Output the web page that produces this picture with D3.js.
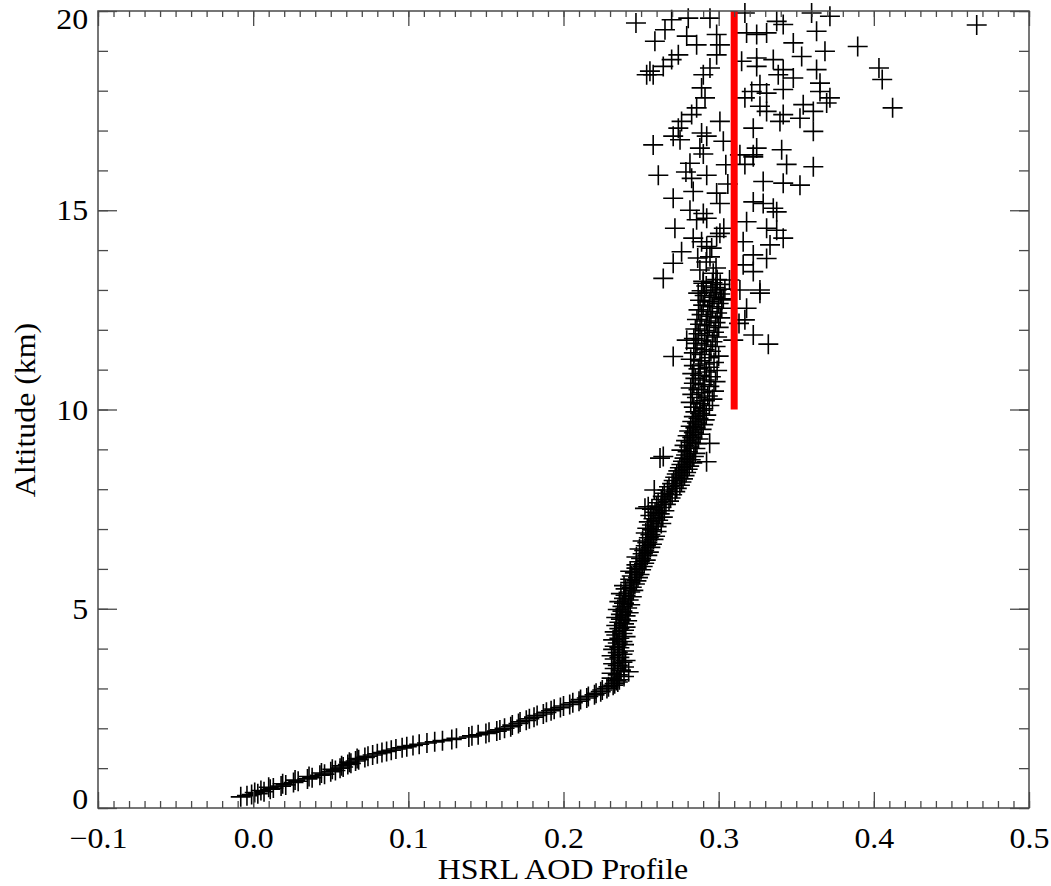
<!DOCTYPE html>
<html>
<head>
<meta charset="utf-8">
<script src="https://cdn.jsdelivr.net/npm/d3@7"></script>
<style>
  body { margin: 0; background: #fff; }
  svg text { font-family: "Liberation Serif", "Times New Roman", Times, "DejaVu Serif", serif !important; fill: #000; }
</style>
</head>
<body>
<svg id="chart"></svg>
<script>
// HSRL AOD profile points, [aod, altitude km]
// lower curve (boundary layer)
const lowerPoints = [
  [-0.008,0.28],[-0.004,0.31],[-0.001,0.34],[0.003,0.36],[0.001,0.39],[0.007,0.41],[0.005,0.44],
  [0.011,0.47],[0.013,0.50],[0.010,0.52],[0.018,0.55],[0.021,0.58],[0.019,0.61],[0.026,0.64],
  [0.029,0.67],[0.027,0.70],[0.035,0.73],[0.038,0.76],[0.036,0.79],[0.043,0.82],[0.046,0.85],
  [0.044,0.88],[0.050,0.91],[0.053,0.94],[0.051,0.97],[0.056,1.00],[0.058,1.03],[0.057,1.06],
  [0.061,1.09],[0.063,1.12],[0.062,1.15],[0.066,1.18],[0.068,1.21],[0.067,1.24],[0.072,1.27],
  [0.074,1.30],[0.077,1.33],[0.080,1.36],[0.083,1.39],[0.086,1.42],[0.089,1.45],[0.092,1.48],
  [0.096,1.51],[0.099,1.54],[0.103,1.57],[0.107,1.60],[0.112,1.63],[0.117,1.66],[0.122,1.69],
  [0.128,1.72],[0.131,1.75],[0.139,1.78],[0.141,1.81],[0.145,1.84],[0.150,1.87],[0.152,1.90],
  [0.157,1.93],[0.159,1.96],[0.162,2.00],[0.166,2.04],[0.167,2.08],[0.171,2.12],[0.172,2.16],
  [0.176,2.20],[0.178,2.24],[0.181,2.28],[0.183,2.32],[0.187,2.36],[0.189,2.40],[0.192,2.44],
  [0.194,2.48],[0.198,2.52],[0.200,2.56],[0.204,2.60],[0.206,2.64],[0.210,2.68],[0.211,2.72],
  [0.215,2.76],[0.216,2.80],[0.220,2.84],[0.221,2.88],[0.224,2.92],[0.225,2.96],[0.228,3.00],
  [0.229,3.04],[0.232,3.08],[0.233,3.12],[0.235,3.16],[0.234,3.20]
];

// 3.2 - 7 km
const midPoints = [
  [0.236,3.22],[0.231,3.26],[0.239,3.30],[0.235,3.34],[0.231,3.38],[0.242,3.42],[0.237,3.46],
  [0.233,3.50],[0.239,3.54],[0.235,3.58],[0.232,3.62],[0.238,3.66],[0.240,3.70],[0.233,3.74],
  [0.236,3.78],[0.231,3.82],[0.238,3.86],[0.235,3.90],[0.239,3.94],[0.232,3.98],[0.236,4.02],
  [0.233,4.06],[0.239,4.10],[0.235,4.14],[0.238,4.18],[0.232,4.22],[0.236,4.26],[0.240,4.30],
  [0.234,4.34],[0.238,4.38],[0.233,4.42],[0.239,4.46],[0.236,4.50],[0.240,4.54],[0.234,4.58],
  [0.239,4.62],[0.236,4.66],[0.241,4.70],[0.237,4.74],[0.234,4.78],[0.240,4.82],[0.237,4.86],
  [0.242,4.90],[0.238,4.94],[0.235,4.98],[0.241,5.02],[0.238,5.06],[0.243,5.10],[0.239,5.14],
  [0.236,5.18],[0.242,5.22],[0.239,5.26],[0.244,5.30],[0.240,5.34],[0.237,5.38],[0.243,5.42],
  [0.245,5.46],[0.240,5.50],[0.244,5.54],[0.239,5.58],[0.246,5.62],[0.243,5.66],[0.247,5.70],
  [0.243,5.74],[0.248,5.78],[0.244,5.82],[0.249,5.86],[0.246,5.90],[0.243,5.94],[0.250,5.98],
  [0.247,6.02],[0.251,6.06],[0.247,6.10],[0.252,6.14],[0.249,6.18],[0.253,6.22],[0.250,6.26],
  [0.247,6.30],[0.254,6.34],[0.251,6.38],[0.255,6.42],[0.252,6.46],[0.249,6.50],[0.256,6.54],
  [0.253,6.58],[0.257,6.62],[0.254,6.66],[0.251,6.70],[0.258,6.74],[0.255,6.78],[0.259,6.82],
  [0.256,6.86],[0.253,6.90],[0.260,6.94],[0.257,6.98]
];

// 7 - 10 km
const upperMidPoints = [
  [0.254,7.02],[0.260,7.06],[0.257,7.10],[0.263,7.14],[0.255,7.18],[0.261,7.22],[0.258,7.26],
  [0.264,7.30],[0.256,7.34],[0.262,7.38],[0.259,7.42],[0.265,7.46],[0.257,7.50],[0.263,7.54],
  [0.260,7.58],[0.266,7.62],[0.261,7.66],[0.268,7.70],[0.263,7.74],[0.269,7.78],[0.264,7.82],
  [0.270,7.86],[0.265,7.90],[0.272,7.94],[0.267,7.98],[0.273,8.02],[0.268,8.06],[0.275,8.10],
  [0.270,8.14],[0.276,8.18],[0.271,8.22],[0.277,8.26],[0.272,8.30],[0.278,8.34],[0.273,8.38],
  [0.279,8.42],[0.274,8.46],[0.280,8.50],[0.275,8.54],[0.281,8.58],[0.276,8.62],[0.283,8.66],
  [0.277,8.70],[0.282,8.74],[0.278,8.78],[0.284,8.82],[0.279,8.86],[0.285,8.90],[0.280,8.94],
  [0.276,8.98],[0.285,9.02],[0.281,9.06],[0.278,9.10],[0.286,9.14],[0.282,9.18],[0.279,9.22],
  [0.287,9.26],[0.283,9.30],[0.280,9.34],[0.288,9.38],[0.284,9.42],[0.281,9.46],[0.289,9.50],
  [0.285,9.54],[0.282,9.58],[0.290,9.62],[0.286,9.66],[0.283,9.70],[0.291,9.74],[0.287,9.78],
  [0.284,9.82],[0.292,9.86],[0.288,9.90],[0.285,9.94],[0.290,9.98],
  [0.2643,8.82],[0.2585,7.98],[0.2546,7.56],[0.2622,8.78],[0.2525,7.52],[0.2942,9.15],[0.2922,8.69]
];

// 10 - 13.3 km
const upperPoints = [
  [0.290,10.02],[0.284,10.06],[0.294,10.10],[0.288,10.14],[0.282,10.18],[0.291,10.22],[0.296,10.26],
  [0.286,10.30],[0.293,10.34],[0.283,10.38],[0.289,10.42],[0.297,10.46],[0.287,10.50],[0.282,10.54],
  [0.294,10.58],[0.290,10.62],[0.284,10.66],[0.298,10.70],[0.291,10.74],[0.285,10.78],[0.295,10.82],
  [0.288,10.86],[0.283,10.90],[0.292,10.94],[0.299,10.98],[0.287,11.02],[0.294,11.06],[0.284,11.10],
  [0.291,11.14],[0.297,11.18],[0.288,11.22],[0.282,11.26],[0.294,11.30],[0.300,11.34],[0.289,11.38],
  [0.284,11.42],[0.295,11.46],[0.291,11.50],[0.285,11.54],[0.298,11.58],[0.292,11.62],[0.286,11.66],
  [0.296,11.70],[0.289,11.74],[0.284,11.78],[0.299,11.82],[0.293,11.86],[0.287,11.90],[0.297,11.94],
  [0.291,11.98],[0.285,12.02],[0.300,12.06],[0.294,12.10],[0.288,12.14],[0.298,12.18],[0.292,12.22],
  [0.286,12.26],[0.301,12.30],[0.295,12.34],[0.289,12.38],[0.299,12.42],[0.293,12.46],[0.287,12.50],
  [0.302,12.54],[0.296,12.58],[0.290,12.62],[0.300,12.66],[0.294,12.70],[0.288,12.74],[0.303,12.78],
  [0.297,12.82],[0.291,12.86],[0.301,12.90],[0.295,12.94],[0.289,12.98],[0.304,13.02],[0.298,13.06],
  [0.292,13.10],[0.301,13.14],[0.296,13.18],[0.290,13.22],[0.299,13.26],
  [0.2707,11.33],[0.2794,11.74],[0.3320,11.64],[0.3223,11.87],[0.3266,12.92],[0.3180,12.54],
  [0.3169,12.25],[0.3131,12.16],[0.3094,11.74],[0.3020,12.75],[0.3070,13.25]
];

// above 13 km, scattered
const topPoints = [
  [0.2611,15.88],[0.2815,16.18],[0.2901,16.41],[0.2826,15.80],[0.2923,15.88],[0.2707,15.30],
  [0.2836,15.47],[0.2987,15.43],[0.3008,15.17],[0.2901,14.92],[0.2923,14.80],[0.2858,14.76],
  [0.2718,14.55],[0.2836,14.30],[0.2890,14.21],[0.2987,14.34],[0.3008,14.42],[0.2761,13.96],
  [0.2707,13.67],[0.2643,13.29],[0.2923,14.09],[0.2944,13.83],[0.2879,13.50],[0.2965,13.42],
  [0.2901,13.17],[0.2987,13.00],[0.2868,12.92],[0.3223,16.34],[0.3169,16.15],[0.3438,16.15],
  [0.3610,16.09],[0.3287,15.72],[0.3416,15.68],[0.3524,15.63],[0.3223,15.21],[0.3287,15.17],
  [0.3352,15.05],[0.3374,14.96],[0.3180,14.71],[0.3309,14.55],[0.3374,14.50],[0.3416,14.30],
  [0.3158,14.21],[0.3331,14.13],[0.3223,13.88],[0.3309,13.79],[0.3158,13.63],[0.3223,13.46],
  [0.3266,13.00],[0.3137,13.00],
  [0.2920,13.70],[0.2983,13.55],[0.2865,13.80],[0.2955,14.05],[0.3033,14.55],[0.2815,15.00],
  [0.3059,15.66],[0.2789,15.96],[0.3046,16.14],
  [0.2467,19.70],[0.2589,19.24],[0.2654,19.53],[0.2697,19.78],[0.2804,19.82],[0.2794,19.37],
  [0.2944,19.82],[0.2987,19.41],[0.2858,19.15],[0.3008,19.15],[0.2740,18.90],[0.2697,18.78],
  [0.2643,18.61],[0.2557,18.49],[0.2536,18.40],[0.2578,18.40],[0.2987,18.90],[0.2944,18.57],
  [0.2901,18.40],[0.2890,18.07],[0.2912,17.82],[0.2858,17.57],[0.2826,17.40],[0.2761,17.23],
  [0.2740,17.06],[0.2707,16.86],[0.2578,16.64],[0.2751,16.77],[0.2890,16.94],[0.2923,16.86],
  [0.3008,17.23],[0.2879,16.56],[0.3030,16.73],
  [0.3169,19.95],[0.3245,19.41],[0.3180,19.45],[0.3309,19.45],[0.3416,19.66],[0.3374,19.74],
  [0.3599,19.95],[0.3717,19.87],[0.3631,19.49],[0.3481,19.20],[0.3685,18.99],[0.3535,18.86],
  [0.3352,18.78],[0.3245,18.82],[0.3148,18.74],[0.3416,18.53],[0.3245,18.61],[0.3631,18.53],
  [0.3384,18.40],[0.3481,18.32],[0.3266,18.15],[0.3653,18.19],[0.3213,17.98],[0.3416,18.03],
  [0.3309,17.94],[0.3653,17.98],[0.3545,17.65],[0.3696,17.69],[0.3717,17.82],[0.3266,17.61],
  [0.3309,17.48],[0.3169,17.82],[0.3416,17.40],[0.3524,17.31],[0.3610,17.48],[0.3223,17.06],
  [0.3395,17.23],[0.3610,16.98],[0.3245,16.56],[0.3223,16.39],[0.3406,16.52],[0.3137,16.39],
  [0.3896,19.11],[0.4033,18.57],[0.4054,18.28],[0.4121,17.57],[0.4663,19.65]
];

// reference value (red bar)
const refLine = [[0.31, 10], [0.31, 20]];

const xTicks = [-0.1, 0.0, 0.1, 0.2, 0.3, 0.4, 0.5];
const yTicks = [0, 5, 10, 15, 20];

const width = 1051, height = 886;
const serif = '"Liberation Serif", "Times New Roman", Times, "DejaVu Serif", serif';
const fontSize = 29;
const stretch = 1.1; // IDL output text is a bit wider than Times
const svg = d3.select('#chart').attr('width', width).attr('height', height)
  .style('font-family', serif);

const x = d3.scaleLinear().domain([-0.1, 0.5]).range([98, 1029]);
const y = d3.scaleLinear().domain([0, 20]).range([808, 11]);

const allPoints = [...lowerPoints, ...midPoints, ...upperMidPoints, ...upperPoints, ...topPoints];

// markers
svg.append('g')
  .selectAll('path')
  .data(allPoints)
  .enter().append('path')
  .attr('transform', d => `translate(${x(d[0])},${y(d[1])})`)
  .attr('d', 'M-10,0H10M0,-10V10')
  .attr('stroke', '#000')
  .attr('stroke-width', 1.6)
  .attr('fill', 'none');

// red reference line
svg.append('path')
  .datum(refLine)
  .attr('d', d3.line().x(d => x(d[0])).y(d => y(d[1])))
  .attr('stroke', '#ff0000')
  .attr('stroke-width', 7)
  .attr('fill', 'none');

// axes (IDL style, ticks inward on all four sides)
const axisColor = '#4a4a4a';
const fmt = d3.format('.1f');
const minorX = d3.range(-0.1, 0.5001, 0.01);
const minorY = d3.range(0, 20.001, 1);

function styleAxis(g) {
  g.attr('font-family', serif);
  g.select('.domain').remove();
  g.selectAll('.tick line').attr('stroke', axisColor).attr('stroke-width', 1.3);
}

// bottom
svg.append('g').attr('transform', 'translate(0,808)')
  .call(d3.axisBottom(x).tickValues(minorX).tickSize(-7).tickFormat(''))
  .call(styleAxis);
svg.append('g').attr('transform', 'translate(0,808)')
  .call(d3.axisBottom(x).tickValues(xTicks).tickSize(-16).tickPadding(19).tickFormat(fmt))
  .call(styleAxis)
  .call(g => g.selectAll('text')
    .attr('font-size', fontSize)
    .style('font-family', serif)
    .attr('transform', `scale(${stretch},1)`));

// top
svg.append('g').attr('transform', 'translate(0,11)')
  .call(d3.axisTop(x).tickValues(minorX).tickSize(-6).tickFormat(''))
  .call(styleAxis);
svg.append('g').attr('transform', 'translate(0,11)')
  .call(d3.axisTop(x).tickValues(xTicks).tickSize(-15).tickFormat(''))
  .call(styleAxis);

// left
svg.append('g').attr('transform', 'translate(98,0)')
  .call(d3.axisLeft(y).tickValues(minorY).tickSize(-10).tickFormat(''))
  .call(styleAxis);
svg.append('g').attr('transform', 'translate(98,0)')
  .call(d3.axisLeft(y).tickValues(yTicks).tickSize(-19).tickPadding(9).tickFormat(d3.format('d')))
  .call(styleAxis)
  .call(g => g.selectAll('text')
    .attr('font-size', fontSize)
    .style('font-family', serif)
    .attr('transform', `scale(${stretch},1)`)
    .attr('dy', d => d === 20 ? '0.62em' : d === 0 ? '0' : '0.33em'));

// right
svg.append('g').attr('transform', 'translate(1029,0)')
  .call(d3.axisRight(y).tickValues(minorY).tickSize(-10).tickFormat(''))
  .call(styleAxis);
svg.append('g').attr('transform', 'translate(1029,0)')
  .call(d3.axisRight(y).tickValues(yTicks).tickSize(-19).tickFormat(''))
  .call(styleAxis);

// frame
svg.append('rect')
  .attr('x', 98).attr('y', 11)
  .attr('width', 1029 - 98).attr('height', 808 - 11)
  .attr('fill', 'none')
  .attr('stroke', axisColor)
  .attr('stroke-width', 1.5);

// titles
svg.append('text')
  .attr('transform', `translate(563,879) scale(${stretch},1)`)
  .attr('text-anchor', 'middle')
  .attr('font-size', fontSize)
  .style('font-family', serif)
  .text('HSRL AOD Profile');

svg.append('text')
  .attr('transform', `translate(35,410) rotate(-90) scale(${stretch},1)`)
  .attr('text-anchor', 'middle')
  .attr('font-size', fontSize)
  .style('font-family', serif)
  .text('Altitude (km)');
</script>
</body>
</html>
